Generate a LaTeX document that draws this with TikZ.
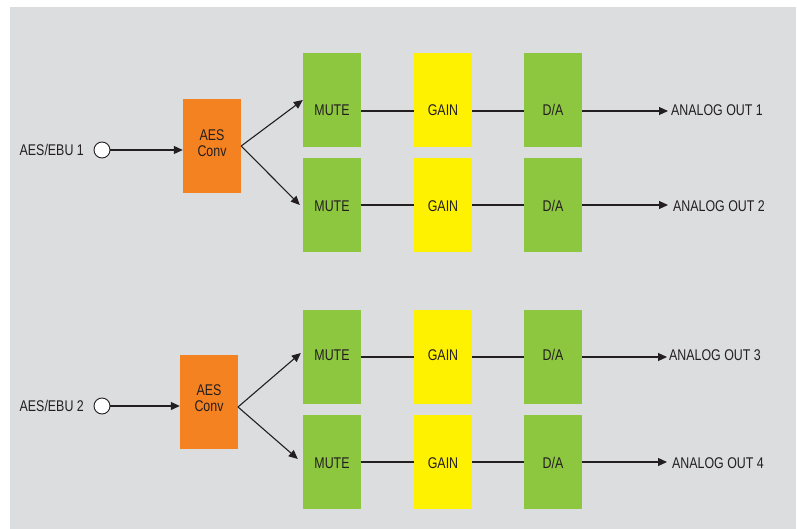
\documentclass[tikz,border=0pt]{standalone}
\usepackage{fontspec}
\setmainfont[FakeStretch=0.8]{Liberation Sans}
\usetikzlibrary{arrows.meta}
\definecolor{bggray}{HTML}{DCDDDF}
\definecolor{aesorange}{HTML}{F58220}
\definecolor{blkgreen}{HTML}{8DC63F}
\definecolor{blkyellow}{HTML}{FFF200}
\definecolor{inkdark}{HTML}{231F20}
\begin{document}
\begin{tikzpicture}[x=1pt,y=-1pt,
  blk/.style={rectangle,inner sep=0pt,minimum width=58pt,minimum height=94pt,draw=none},
  mutebox/.style={blk,fill=blkgreen},
  gainbox/.style={blk,fill=blkyellow},
  dabox/.style={blk,fill=blkgreen},
  convbox/.style={blk,fill=aesorange},
  txt/.style={text=inkdark,font=\fontsize{15.5}{17}\selectfont,inner sep=0pt,align=center},
  jack/.style={circle,draw=inkdark,fill=white,line width=0.9pt,minimum size=16pt,inner sep=0pt},
  wire/.style={draw=inkdark,line width=1.1pt},
  arr/.style={wire,-{Triangle[length=9pt,width=8pt]}}]
\useasboundingbox (0,0) rectangle (797,529);
\fill[bggray] (10,7) rectangle (796,529);

% ---- group 1 ----
\node[jack] (c1) at (102,150) {};
\node[txt,anchor=east] (l1) at (84,150) {AES/EBU 1};
\node[convbox] (a1) at (212,146) {};
\node[txt] (a1t) at (212,143) {AES\\[-1pt]Conv};

\coordinate (r1) at (0,111);
\coordinate (r2) at (0,205);
\node[mutebox] (m1) at (332,100) {};
\node[gainbox] (g1) at (443,100) {};
\node[dabox] (d1) at (553,100) {};
\node[txt] (m1t) at (332,110) {MUTE};
\node[txt] (g1t) at (443,110) {GAIN};
\node[txt] (d1t) at (553,110) {D/A};
\node[mutebox] (m2) at (332,205) {};
\node[gainbox] (g2) at (443,205) {};
\node[dabox] (d2) at (553,205) {};
\node[txt] (m2t) at (332,206) {MUTE};
\node[txt] (g2t) at (443,206) {GAIN};
\node[txt] (d2t) at (553,206) {D/A};
\coordinate (o1) at (668,111);
\coordinate (o2) at (668,205);
\node[txt,anchor=west] (o1t) at (671,110) {ANALOG OUT 1};
\node[txt,anchor=west] (o2t) at (673,206) {ANALOG OUT 2};

\draw[arr] (c1.east) -- (c1.east -| a1.west);
\draw[arr] (a1.east) -- (m1.west);
\draw[arr] (a1.east) -- ([xshift=-3pt]m2.west);
\draw[wire] (m1.east |- r1) -- (g1.west |- r1);
\draw[wire] (g1.east |- r1) -- (d1.west |- r1);
\draw[arr] (d1.east |- r1) -- (o1);
\draw[wire] (m2.east |- r2) -- (g2.west |- r2);
\draw[wire] (g2.east |- r2) -- (d2.west |- r2);
\draw[arr] (d2.east |- r2) -- (o2);

% ---- group 2 ----
\node[jack] (c2) at (102,406) {};
\node[txt,anchor=east] (l2) at (84,406) {AES/EBU 2};
\node[convbox] (a2) at (209,402) {};
\node[txt] (a2t) at (209,398) {AES\\[-1pt]Conv};
\coordinate (a2o) at (238,407);

\coordinate (r3) at (0,357);
\coordinate (r4) at (0,462);
\node[mutebox] (m3) at (332,357) {};
\node[gainbox] (g3) at (443,357) {};
\node[dabox] (d3) at (553,357) {};
\node[txt] (m3t) at (332,355) {MUTE};
\node[txt] (g3t) at (443,355) {GAIN};
\node[txt] (d3t) at (553,355) {D/A};
\node[mutebox] (m4) at (332,462) {};
\node[gainbox] (g4) at (443,462) {};
\node[dabox] (d4) at (553,462) {};
\node[txt] (m4t) at (332,463) {MUTE};
\node[txt] (g4t) at (443,463) {GAIN};
\node[txt] (d4t) at (553,463) {D/A};
\coordinate (o3) at (667,357);
\coordinate (o4) at (667,462);
\node[txt,anchor=west] (o3t) at (669,355) {ANALOG OUT 3};
\node[txt,anchor=west] (o4t) at (672,463) {ANALOG OUT 4};

\draw[arr] (c2.east) -- (c2.east -| a2.west);
\draw[arr] (a2o) -- ([xshift=-2pt,yshift=4pt]m3.west);
\draw[arr] (a2o) -- ([xshift=-5pt,yshift=3pt]m4.west);
\draw[wire] (m3.east |- r3) -- (g3.west |- r3);
\draw[wire] (g3.east |- r3) -- (d3.west |- r3);
\draw[arr] (d3.east |- r3) -- (o3);
\draw[wire] (m4.east |- r4) -- (g4.west |- r4);
\draw[wire] (g4.east |- r4) -- (d4.west |- r4);
\draw[arr] (d4.east |- r4) -- (o4);
\end{tikzpicture}
\end{document}
